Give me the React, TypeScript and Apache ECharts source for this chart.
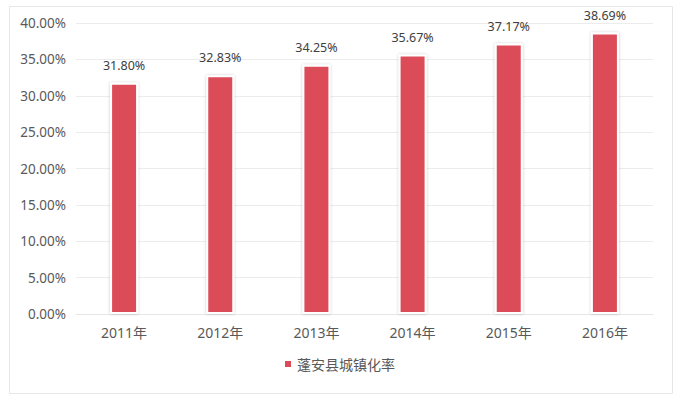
import React, { useEffect, useRef } from "react";
import * as echarts from "echarts";

const categories = ["2011年", "2012年", "2013年", "2014年", "2015年", "2016年"];
const rates = [31.8, 32.83, 34.25, 35.67, 37.17, 38.69];
const seriesName = "蓬安县城镇化率";

const FONT = '"Noto Sans", "Noto Sans CJK SC", sans-serif';

export default function App() {
  const ref = useRef<HTMLDivElement>(null);
  useEffect(() => {
    document.body.style.margin = "0";
    const chart = echarts.init(ref.current!, null, { renderer: "svg" });
    chart.setOption({
      animation: false,
      backgroundColor: "#ffffff",
      textStyle: { fontFamily: FONT },
      graphic: [
        {
          type: "rect",
          left: 7,
          top: 4,
          shape: { x: 0, y: 0, width: 663, height: 387 },
          style: { fill: "none", stroke: "#e6e6e6", lineWidth: 1 },
          silent: true,
        },
      ],
      grid: { left: 76, right: 25, top: 23, bottom: 89 },
      legend: {
        bottom: 27,
        left: "center",
        itemWidth: 8,
        itemHeight: 8,
        icon: "rect",
        itemGap: 6,
        textStyle: { fontSize: 14, color: "#595959", fontFamily: FONT },
        data: [seriesName],
      },
      xAxis: {
        type: "category",
        data: categories,
        axisLine: { show: true, lineStyle: { color: "#e6e6e6" } },
        axisTick: { show: false },
        axisLabel: { fontSize: 14, color: "#595959", margin: 11, fontFamily: FONT },
      },
      yAxis: {
        type: "value",
        min: 0,
        max: 40,
        interval: 5,
        axisLine: { show: false },
        axisTick: { show: false },
        splitLine: { lineStyle: { color: "#ececec" } },
        axisLabel: {
          fontSize: 13.5,
          color: "#595959",
          margin: 10,
          fontFamily: FONT,
          formatter: (v: number) => v.toFixed(2) + "%",
        },
      },
      series: [
        {
          name: seriesName,
          type: "bar",
          data: rates,
          barWidth: 28,
          itemStyle: {
            color: "#db4c58",
            borderColor: "#ffffff",
            borderWidth: 2,
            shadowColor: "rgba(0,0,0,0.22)",
            shadowBlur: 3,
          },
          label: {
            show: true,
            position: "top",
            distance: 11,
            fontSize: 12.5,
            color: "#404040",
            fontFamily: FONT,
            formatter: (p: any) => p.value.toFixed(2) + "%",
          },
        },
      ],
    });
    return () => chart.dispose();
  }, []);
  return <div ref={ref} style={{ width: 678, height: 403 }} />;
}
